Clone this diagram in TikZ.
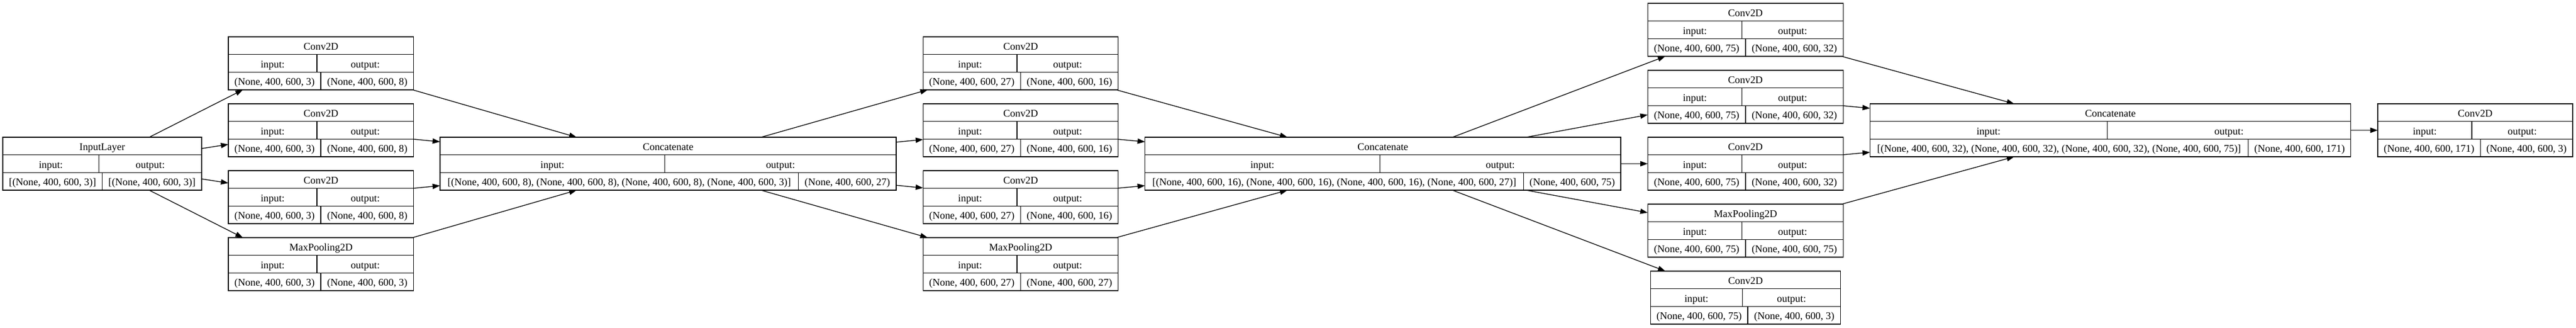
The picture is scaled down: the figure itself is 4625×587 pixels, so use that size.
\documentclass[tikz,border=0pt]{standalone}
\usepackage{fontspec}
\setmainfont{Liberation Serif}
\usetikzlibrary{arrows.meta}

\newcommand{\kerasLayer}[9]{%
\node [layer, minimum width={(#3-#2)*0.75pt}, minimum height=71.25pt] (#1) at ({(#2+#3)/2},{#4+47.5}) {};
\draw [black] (#2,{#4+31.67}) -- (#3,{#4+31.67});
\draw [black] (#2,{#4+63.33}) -- (#3,{#4+63.33});
\draw [black] (#5,{#4+31.67}) -- (#5,{#4+63.33});
\draw [black] (#6,{#4+63.33}) -- (#6,{#4+95});
\node [txt] (#1-title) at ({(#2+#3)/2},{#4+23.5}) {#7};
\node [txt] (#1-in) at ({(#2+#5)/2},{#4+55.2}) {input:};
\node [txt] (#1-out) at ({(#5+#3)/2},{#4+55.2}) {output:};
\node [txt] (#1-inshape) at ({(#2+#6)/2},{#4+86.8}) {#8};
\node [txt] (#1-outshape) at ({(#6+#3)/2},{#4+86.8}) {#9};
}

\begin{document}
\begin{tikzpicture}[x=0.75pt,y=-0.75pt,line width=1pt]
\tikzstyle{every node}+=[inner sep=0pt]
\tikzstyle{layer}=[draw=black, rectangle, outer sep=0pt]
\tikzstyle{txt}=[anchor=base, font=\fontsize{13.8pt}{16pt}\selectfont]
\tikzstyle{arrow}=[black, -{Triangle[length=10pt,width=7pt]}]
\useasboundingbox (0,0) rectangle (4625,587);
\kerasLayer{inp}{5}{362}{246}{177.6}{183.7}{InputLayer}{[(None, 400, 600, 3)]}{[(None, 400, 600, 3)]}
\kerasLayer{conv1a}{410}{742.7}{66}{569}{576}{Conv2D}{(None, 400, 600, 3)}{(None, 400, 600, 8)}
\kerasLayer{conv1b}{410}{742.7}{186}{569}{576}{Conv2D}{(None, 400, 600, 3)}{(None, 400, 600, 8)}
\kerasLayer{conv1c}{410}{742.7}{306}{569}{576}{Conv2D}{(None, 400, 600, 3)}{(None, 400, 600, 8)}
\kerasLayer{pool1}{410}{742.7}{426}{569}{576}{MaxPooling2D}{(None, 400, 600, 3)}{(None, 400, 600, 3)}
\kerasLayer{concat1}{790}{1609}{246}{1193.7}{1433.7}{Concatenate}{[(None, 400, 600, 8), (None, 400, 600, 8), (None, 400, 600, 8), (None, 400, 600, 3)]}{(None, 400, 600, 27)}
\kerasLayer{conv2a}{1657.3}{2007.7}{66}{1826}{1832.3}{Conv2D}{(None, 400, 600, 27)}{(None, 400, 600, 16)}
\kerasLayer{conv2b}{1657.3}{2007.7}{186}{1826}{1832.3}{Conv2D}{(None, 400, 600, 27)}{(None, 400, 600, 16)}
\kerasLayer{conv2c}{1657.3}{2007.7}{306}{1826}{1832.3}{Conv2D}{(None, 400, 600, 27)}{(None, 400, 600, 16)}
\kerasLayer{pool2}{1657.3}{2007.7}{426}{1826}{1832.3}{MaxPooling2D}{(None, 400, 600, 27)}{(None, 400, 600, 27)}
\kerasLayer{concat2}{2055.7}{2910}{246}{2477.3}{2735.7}{Concatenate}{[(None, 400, 600, 16), (None, 400, 600, 16), (None, 400, 600, 16), (None, 400, 600, 27)]}{(None, 400, 600, 75)}
\kerasLayer{conv3a}{2958.3}{3309.3}{6}{3127.7}{3134}{Conv2D}{(None, 400, 600, 75)}{(None, 400, 600, 32)}
\kerasLayer{conv3b}{2958.3}{3309.3}{126}{3127.7}{3134}{Conv2D}{(None, 400, 600, 75)}{(None, 400, 600, 32)}
\kerasLayer{conv3c}{2958.3}{3309.3}{246}{3127.7}{3134}{Conv2D}{(None, 400, 600, 75)}{(None, 400, 600, 32)}
\kerasLayer{pool3}{2958.3}{3309.3}{366}{3127.7}{3134}{MaxPooling2D}{(None, 400, 600, 75)}{(None, 400, 600, 75)}
\kerasLayer{conv3d}{2963.3}{3304.7}{486}{3128.3}{3138}{Conv2D}{(None, 400, 600, 75)}{(None, 400, 600, 3)}
\kerasLayer{concat3}{3357.3}{4220.7}{186}{3783.3}{4036.7}{Concatenate}{[(None, 400, 600, 32), (None, 400, 600, 32), (None, 400, 600, 32), (None, 400, 600, 75)]}{(None, 400, 600, 171)}
\kerasLayer{convout}{4269}{4619}{186}{4438}{4453.3}{Conv2D}{(None, 400, 600, 171)}{(None, 400, 600, 3)}
\draw [arrow] ([shift={(84.5,0)}]inp.north) -- ([shift={(26,0)}]conv1a.south west);
\draw [arrow] (inp) -- (conv1b);
\draw [arrow] (inp) -- (conv1c);
\draw [arrow] ([shift={(84.5,0)}]inp.south) -- ([shift={(26,0)}]pool1.north west);
\draw [arrow] (conv1a) -- (concat1);
\draw [arrow] (conv1b) -- (concat1);
\draw [arrow] (conv1c) -- (concat1);
\draw [arrow] (pool1) -- (concat1);
\draw [arrow] (concat1) -- (conv2a);
\draw [arrow] (concat1) -- (conv2b);
\draw [arrow] (concat1) -- (conv2c);
\draw [arrow] (concat1) -- (pool2);
\draw [arrow] (conv2a) -- (concat2);
\draw [arrow] (conv2b) -- (concat2);
\draw [arrow] (conv2c) -- (concat2);
\draw [arrow] (pool2) -- (concat2);
\draw [arrow] ([shift={(125,0)}]concat2.north) -- ([shift={(-144,0)}]conv3a.south);
\draw [arrow] (concat2) -- (conv3b);
\draw [arrow] (concat2) -- (conv3c);
\draw [arrow] (concat2) -- (pool3);
\draw [arrow] ([shift={(125,0)}]concat2.south) -- ([shift={(-144,0)}]conv3d.north);
\draw [arrow] (conv3a) -- (concat3);
\draw [arrow] (conv3b) -- (concat3);
\draw [arrow] (conv3c) -- (concat3);
\draw [arrow] (pool3) -- (concat3);
\draw [arrow] (concat3) -- (convout);
\end{tikzpicture}
\end{document}
